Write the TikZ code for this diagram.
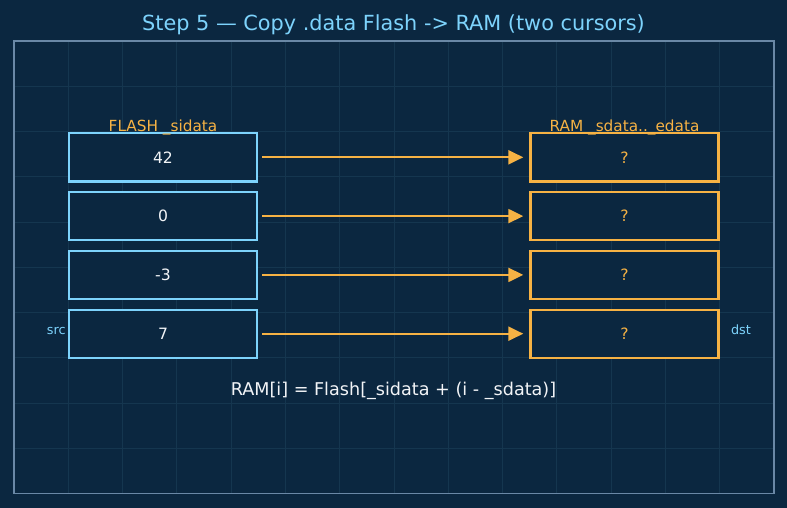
\documentclass[tikz,border=0pt]{standalone}
\usepackage{fontspec}
\setmainfont{DejaVu Sans}
\usetikzlibrary{arrows.meta}
\definecolor{bg}{HTML}{0B2740}
\definecolor{gridc}{HTML}{15364F}
\definecolor{framec}{HTML}{6A88A6}
\definecolor{skyc}{HTML}{7DD3FC}
\definecolor{orangec}{HTML}{F6B244}
\definecolor{textc}{HTML}{F2F4F7}
\begin{document}
\begin{tikzpicture}[x=1pt,y=-1pt,
  cell/.style={draw=skyc, line width=2.4pt, fill=bg, minimum width=188pt, minimum height=48pt, inner sep=0pt, text=textc, font=\fontsize{15.6}{18}\selectfont},
  ramcell/.style={cell, draw=orangec, text=orangec},
  copyarrow/.style={draw=orangec, line width=2.2pt, -{Triangle[length=15pt,width=14pt]}, shorten <=4pt, shorten >=6pt},
  gridline/.style={draw=gridc, line width=1pt},
  headlabel/.style={text=orangec, font=\fontsize{15.3}{18}\selectfont, anchor=base, inner sep=0pt},
  sidelabel/.style={text=skyc, font=\fontsize{12.8}{14}\selectfont, anchor=base, inner sep=0pt}
]
\fill[bg] (0,0) rectangle (787,508);
\useasboundingbox (0,0) rectangle (787,508);
% grid
\foreach \i in {1,...,13} \draw[gridline] ({14+54.286*\i},41) -- ({14+54.286*\i},493.5);
\foreach \j in {1,...,9} \draw[gridline] (14,{41+45.25*\j}) -- (774,{41+45.25*\j});
% frame
\draw[framec, line width=1.6pt] (14,41) rectangle (774,493.5);
% title
\node[text=skyc, font=\fontsize{20.8}{24}\selectfont, anchor=base, inner sep=0pt] (title) at (393.5,30.5) {Step 5 — Copy .data Flash -> RAM (two cursors)};
% flash cells
\node[cell] (f1) at (163,157.3) {42};
\node[cell] (f2) at (163,216.1) {0};
\node[cell] (f3) at (163,274.9) {-3};
\node[cell] (f4) at (163,333.7) {7};
% ram cells
\node[ramcell] (r1) at (624.5,157.3) {?};
\node[ramcell] (r2) at (624.5,216.1) {?};
\node[ramcell] (r3) at (624.5,274.9) {?};
\node[ramcell] (r4) at (624.5,333.7) {?};
% headers
\node[headlabel] (fh) at (163,131.5) {FLASH \_sidata};
\node[headlabel] (rh) at (624.5,131.5) {RAM \_sdata..\_edata};
% arrows
\foreach \k in {1,...,4} \draw[copyarrow] (f\k.east) -- (r\k.west);
% side labels
\node[sidelabel] (src) at (56.3,334.3) {src};
\node[sidelabel] (dst) at (741,334.3) {dst};
% formula
\node[text=textc, font=\fontsize{17.6}{20}\selectfont, anchor=base, inner sep=0pt] (formula) at (393.5,395) {RAM[i] = Flash[\_sidata + (i - \_sdata)]};
\end{tikzpicture}
\end{document}
